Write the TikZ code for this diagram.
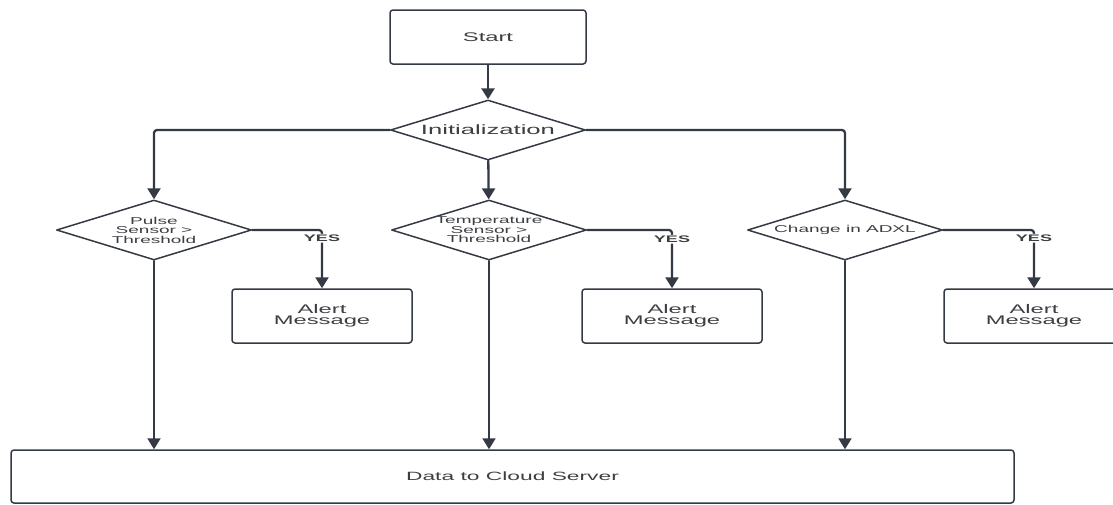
\documentclass[tikz,border=0pt]{standalone}
\usepackage{fontspec}
\usetikzlibrary{shapes.geometric,arrows.meta}
\newfontfamily\flowfont[FakeStretch=1.9]{Liberation Sans}
\definecolor{Lcol}{RGB}{52,58,68}
\definecolor{Tcol}{RGB}{60,62,66}

\begin{document}
\begin{tikzpicture}[x=1pt,y=-1pt,line cap=round,line join=round,
  boxnode/.style={draw=Lcol,line width=1.5pt,rounded corners=3pt,inner sep=0pt,text=Tcol,align=center},
  decnode/.style={diamond,draw=Lcol,line width=1.5pt,aspect=3.25,minimum width=195pt,minimum height=60pt,
    inner sep=-4pt,text=Tcol,align=center,font=\flowfont\fontsize{10}{9.5}\selectfont},
  flow/.style={draw=Lcol,line width=2.3pt,rounded corners=3pt,-{Triangle[width=13pt,length=11pt]}},
  yeslabel/.style={fill=white,inner sep=1pt,text=Tcol,font=\flowfont\bfseries\fontsize{9.5}{10}\selectfont}]
\path[use as bounding box] (0,0) rectangle (1113,504);
\clip (0,0) rectangle (1113,504);
% boxes and decisions
\node[boxnode,minimum width=196pt,minimum height=54pt,font=\flowfont\fontsize{12.5}{13}\selectfont] (start) at (488,37) {Start};
\node[decnode,font=\flowfont\fontsize{13.5}{14}\selectfont] (init) at (488,130) {Initialization};
\node[decnode] (pulse) at (154,230) {Pulse\\Sensor >\\Threshold};
\node[decnode] (temp) at (489,230) {Temperature\\Sensor >\\Threshold};
\node[decnode] (adxl) at (845,230) {Change in ADXL};
\node[boxnode,minimum width=180pt,minimum height=54pt,font=\flowfont\fontsize{12.5}{11}\selectfont] (alertA) at (322,316) {Alert\\Message};
\node[boxnode,minimum width=180pt,minimum height=54pt,font=\flowfont\fontsize{12.5}{11}\selectfont] (alertB) at (672,316) {Alert\\Message};
\node[boxnode,minimum width=180pt,minimum height=54pt,font=\flowfont\fontsize{12.5}{11}\selectfont] (alertC) at (1034,316) {Alert\\Message};
\node[boxnode,minimum width=1003pt,minimum height=53pt,font=\flowfont\fontsize{12}{13}\selectfont] (cloud) at (512.5,476.5) {Data to Cloud Server};
% connectors
\draw[flow,line width=2.8pt] (start) -- (init);
\draw[flow] (init.west) -| (pulse.north);
\draw[flow] (init) -- (temp);
\draw[flow] (init.east) -| (adxl.north);
\draw[flow] (pulse.east) -| node[yeslabel,pos=0.57] (yesA) {YES} (alertA.north);
\draw[flow] (temp.east) -| node[yeslabel,pos=0.58] (yesB) {YES} (alertB.north);
\draw[flow] (adxl.east) -| node[yeslabel,pos=0.57] (yesC) {YES} (alertC.north);
\draw[flow,line width=2pt] (pulse.south) -- (pulse.south |- cloud.north);
\draw[flow,line width=2pt] (temp.south) -- (temp.south |- cloud.north);
\draw[flow,line width=2pt] (adxl.south) -- (adxl.south |- cloud.north);
\end{tikzpicture}
\end{document}
